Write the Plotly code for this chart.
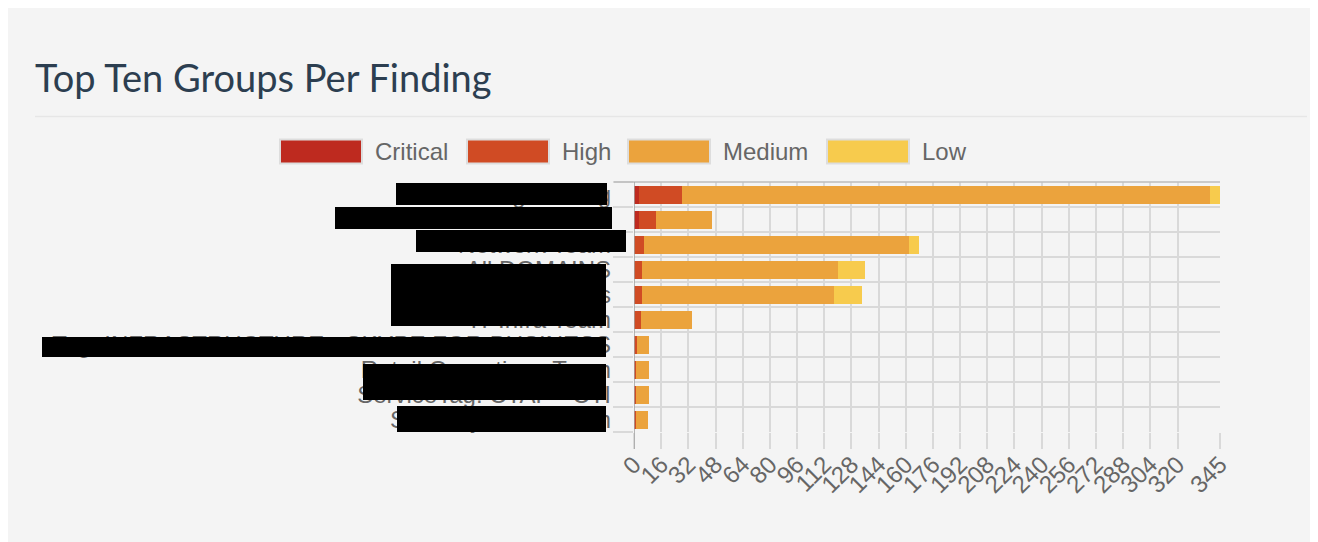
import plotly.graph_objects as go

# ---------------- data ----------------
groups = [
    "Cloud Engineering",
    "Retail Product Team",
    "Network Team",
    "All DOMAINS",
    "Data Services",
    "IT Infra Team",
    "Tag: INFRASTRUCTURE - SKYPE FOR BUSINESS",
    "Retail Operations Team",
    "ServiceTag: CTAP - CTI",
    "Store Systems Team",
]
critical = [3, 3, 0, 0, 0, 0, 0, 0, 0, 0]
high = [25, 10, 6, 5, 5, 4, 2, 1, 1, 1]
medium = [311, 33, 156, 115, 113, 30, 7, 8, 8, 7]
low = [6, 0, 6, 16, 16, 0, 0, 0, 0, 0]

series_names = ["Critical", "High", "Medium", "Low"]
series_values = [critical, high, medium, low]
series_colors = ["#BE2A1F", "#D04B24", "#EBA33D", "#F7CB4D"]

x_tick_values = list(range(0, 321, 16)) + [345]
x_max = 345

title_text = "Top Ten Groups Per Finding"

# ---------------- layout helpers (page pixel coordinates) ----------------
OFF = 8                      # body margin of the html page
W, H = 1318 - OFF, 542 - OFF
PL, PR, PT, PB = 634, 1220, 182, 432  # plot area, page pixels


def px_x(px):
    return (px - PL) / (PR - PL)


def px_y(py):
    return (PB - py) / (PB - PT)


fig = go.Figure()
for name, vals, col in zip(series_names, series_values, series_colors):
    fig.add_trace(go.Bar(
        y=groups, x=vals, name=name, orientation="h",
        marker=dict(color=col, line=dict(width=0)),
        showlegend=False,
    ))

grid = "#D9D9D9"
shapes = []
annotations = []

# title + rule
annotations.append(dict(text=title_text, xref="paper", yref="paper",
                        x=px_x(33), y=px_y(77), xanchor="left", yanchor="middle",
                        showarrow=False,
                        font=dict(family="Lato", size=38, color="#2C3E50")))
shapes.append(dict(type="line", xref="paper", yref="paper",
                   x0=px_x(35), x1=px_x(1307), y0=px_y(116.5), y1=px_y(116.5),
                   line=dict(color="#E6E6E6", width=1.5)))

# custom legend (wide swatches)
legend_box_left = [280, 467, 628, 827]
box_w, box_h, leg_cy = 82, 24, 151.5
for name, col, bx in zip(series_names, series_colors, legend_box_left):
    shapes.append(dict(type="rect", xref="paper", yref="paper",
                       x0=px_x(bx), x1=px_x(bx + box_w),
                       y0=px_y(leg_cy + box_h / 2), y1=px_y(leg_cy - box_h / 2),
                       fillcolor=col, line=dict(color="#DDDDDD", width=2)))
    annotations.append(dict(text=name, xref="paper", yref="paper",
                            x=px_x(bx + box_w + 11), y=px_y(leg_cy),
                            xanchor="left", yanchor="middle", showarrow=False,
                            font=dict(family="Liberation Sans", size=24, color="#666666")))

# redaction boxes over group labels
redactions = [
    (396, 607, 183, 205),
    (335, 612, 207, 229),
    (416, 626, 230, 252),
    (391, 606, 264, 326),
    (42, 606, 337, 357),
    (363, 606, 364, 400),
    (397, 606, 406, 432),
]
for x0, x1, y0, y1 in redactions:
    shapes.append(dict(type="rect", xref="paper", yref="paper",
                       x0=px_x(x0), x1=px_x(x1), y0=px_y(y1), y1=px_y(y0),
                       fillcolor="black", line=dict(width=0), layer="above"))

# darker top border and zero axis line
shapes.append(dict(type="line", xref="paper", yref="paper",
                   x0=px_x(614), x1=1, y0=1, y1=1,
                   line=dict(color="#BDBDBD", width=1.5)))
shapes.append(dict(type="line", xref="x", yref="paper", x0=0, x1=0,
                   y0=px_y(449), y1=1,
                   line=dict(color="#A0A0A0", width=1.5)))

fig.update_layout(
    barmode="stack",
    bargap=0.28,
    width=W, height=H,
    margin=dict(l=PL - OFF, r=1318 - PR, t=PT - OFF, b=542 - PB, pad=0),
    paper_bgcolor="#F4F4F4",
    plot_bgcolor="#F4F4F4",
    shapes=shapes,
    annotations=annotations,
    showlegend=False,
    xaxis=dict(
        range=[0, x_max], tickmode="array", tickvals=x_tick_values,
        ticktext=[str(v) for v in x_tick_values],
        tickangle=-45, ticks="outside", ticklen=16, tickcolor=grid, tickwidth=1.5,
        ticklabelstandoff=-8,
        showgrid=True, gridcolor=grid, gridwidth=1.5,
        zeroline=False, showline=False,
        tickfont=dict(family="Liberation Sans", size=24, color="#666666"),
    ),
    yaxis=dict(
        type="category", autorange="reversed", tickson="boundaries",
        tickmode="array", tickvals=groups, ticktext=groups,
        ticks="outside", ticklen=20, tickcolor=grid, tickwidth=1.5,
        ticklabelstandoff=22,
        showgrid=True, gridcolor=grid, gridwidth=1.5,
        showline=False, zeroline=False,
        tickfont=dict(family="Liberation Sans", size=24, color="#666666"),
    ),
)

fig.write_html("out.html")
